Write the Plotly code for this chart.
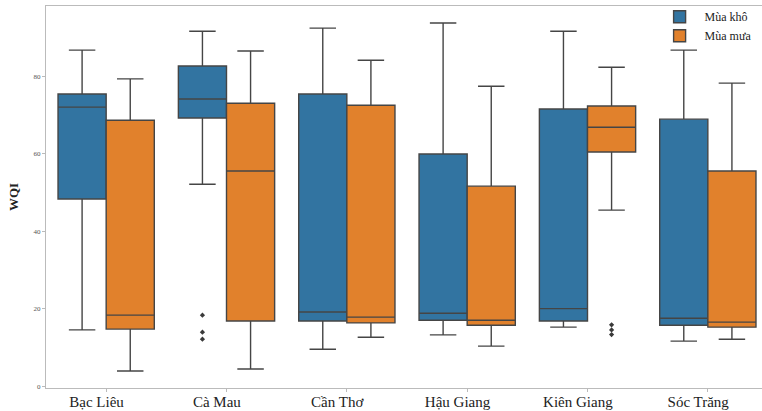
import plotly.graph_objects as go

provinces = ["Bạc Liêu", "Cà Mau", "Cần Thơ", "Hậu Giang", "Kiên Giang", "Sóc Trăng"]
seasons = ["Mùa khô", "Mùa mưa"]

# Dry season (Mùa khô) box statistics
dry_low = [14.5, 52.1, 9.5, 13.2, 15.2, 11.6]
dry_q1 = [48.3, 69.2, 16.8, 17.0, 16.8, 15.7]
dry_med = [72.0, 74.1, 19.1, 18.8, 20.0, 17.5]
dry_q3 = [75.4, 82.6, 75.4, 59.9, 71.5, 68.9]
dry_high = [86.7, 91.6, 92.4, 93.7, 91.6, 86.7]

# Rainy season (Mùa mưa) box statistics
wet_low = [3.9, 4.4, 12.6, 10.3, 45.4, 12.1]
wet_q1 = [14.7, 16.8, 16.3, 15.7, 60.4, 15.2]
wet_med = [18.3, 55.5, 17.8, 17.0, 66.8, 16.5]
wet_q3 = [68.6, 73.0, 72.5, 51.6, 72.3, 55.5]
wet_high = [79.3, 86.5, 84.1, 77.4, 82.3, 78.2]

# Outliers
dry_out_prov = [1, 1, 1]
dry_out_val = [18.3, 13.9, 12.1]
wet_out_prov = [4, 4, 4]
wet_out_val = [15.8, 14.5, 13.3]

colors = ["#3274a1", "#e1812c"]
off = 0.2
label_shift = 0.08
xs = list(range(len(provinces)))

fig = go.Figure()
stats = [
    (dry_low, dry_q1, dry_med, dry_q3, dry_high, -off),
    (wet_low, wet_q1, wet_med, wet_q3, wet_high, off),
]
for k, (lo, q1, md, q3, hi, o) in enumerate(stats):
    fig.add_trace(go.Box(
        x=[i + o for i in xs], lowerfence=lo, q1=q1, median=md, q3=q3, upperfence=hi,
        name=seasons[k], fillcolor=colors[k],
        line=dict(color="#454545", width=1.4), width=0.4, whiskerwidth=0.55,
        boxpoints=False, showlegend=True,
    ))

fig.add_trace(go.Scatter(
    x=[p - off for p in dry_out_prov], y=dry_out_val, mode="markers",
    marker=dict(symbol="diamond", size=4, color="#3a3a3a"), showlegend=False, hoverinfo="skip"))
fig.add_trace(go.Scatter(
    x=[p + off for p in wet_out_prov], y=wet_out_val, mode="markers",
    marker=dict(symbol="diamond", size=4, color="#3a3a3a"), showlegend=False, hoverinfo="skip"))

fig.update_layout(
    width=762, height=411,
    boxmode="overlay",
    margin=dict(l=46, r=0, t=6, b=23),
    plot_bgcolor="white", paper_bgcolor="white",
    font=dict(family="Liberation Serif", color="#222"),
    legend=dict(x=0.85, y=1.01, xanchor="left", yanchor="top",
                font=dict(size=12, family="Liberation Serif"),
                bgcolor="rgba(255,255,255,0)", itemwidth=40),
    xaxis=dict(range=[-0.5, 5.45], tickmode="array",
               tickvals=[i - label_shift for i in xs], ticktext=provinces,
               tickfont=dict(size=15, family="Liberation Serif", color="#222"),
               showgrid=False, zeroline=False, showline=True, linecolor="#bbbbbb",
               linewidth=1, mirror=True, ticks="", automargin=False,
               ticklabelstandoff=0,
               minor=dict(tickmode="array", tickvals=xs, ticks="outside", ticklen=3,
                          tickcolor="#bbbbbb", showgrid=False)),
    yaxis=dict(range=[-0.5, 98.1], tickvals=[0, 20, 40, 60, 80],
               tickfont=dict(size=7, family="Liberation Serif", color="#555"),
               showgrid=False, zeroline=False, showline=True, linecolor="#bbbbbb",
               linewidth=1, mirror=False, ticks="outside", ticklen=3, tickcolor="#bbbbbb",
               automargin=False,
               title=dict(text="<b>WQI</b>", font=dict(size=13, family="Liberation Serif"), standoff=12)),
)

fig.write_html("out.html", config={"displayModeBar": False},
               post_script="document.body.style.margin='0';")
